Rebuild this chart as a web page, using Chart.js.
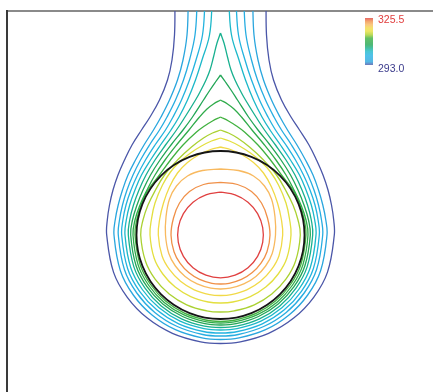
<!DOCTYPE html>
<html>
<head>
<meta charset="utf-8">
<script src="https://cdn.jsdelivr.net/npm/chart.js@4/dist/chart.umd.min.js"></script>
<style>
  html, body { margin: 0; padding: 0; background: #fff; }
  #wrap { width: 433px; height: 392px; position: relative; }
</style>
</head>
<body>
<div id="wrap"><canvas id="plot"></canvas></div>
<script>
// Isotherm temperatures (K), from the coolest outer line to the hottest core line
const levels = [293.0, 295.3, 297.6, 300.0, 302.3, 304.6, 306.9, 309.3, 311.6, 313.9, 316.2, 318.5, 320.9, 323.2, 325.5];
const tempMin = 293.0;
const tempMax = 325.5;
const colorbarLabels = ['325.5', '293.0'];

// Cylinder wall radius, centred on the origin
const cylinderRadius = 84;

// Right half of each isotherm (x, y), from its top down to the symmetry axis below the cylinder.
// Open lines start above the window; closed lines start at their apex on the axis.
const iso293_0 = [[45.5,232],[46,200],[48.5,175],[53,155],[61,135],[70.5,118],[79,105],[88.5,90],[96,75],[102.5,60],[107.5,45],[111,30],[113.2,15],[113.8,0],[107,-37.1],[93.2,-62.3],[73.2,-83.1],[48.1,-98.3],[19.8,-106.8],[0,-108.5]];
const iso295_3 = [[32.2,232],[33.5,200],[37.5,175],[43,155],[51,135],[59.5,118],[67,105],[76.5,90],[85,75],[92.5,60],[98,45],[102.3,30],[105.3,15],[106.5,0],[100.1,-35.7],[87.2,-60],[68.5,-80],[45.1,-94.7],[18.5,-102.9],[0,-104.5]];
const iso297_6 = [[23.3,232],[25.5,200],[31,175],[37,155],[45,135],[53.5,118],[61,105],[71,90],[80,75],[87.5,60],[93.5,45],[98,30],[101,15],[102.2,0],[96.1,-34.5],[83.7,-58],[65.7,-77.4],[43.2,-91.5],[17.8,-99.5],[0,-101]];
const iso300_0 = [[15.5,232],[18,200],[24.5,175],[31,155],[39,135],[47.5,118],[55,105],[65.5,90],[75,75],[83,60],[89.5,45],[94.5,30],[97.6,15],[98.8,0],[92.9,-33.5],[80.9,-56.3],[63.5,-75.1],[41.8,-88.8],[17.2,-96.5],[0,-98]];
const iso302_3 = [[8.3,232],[11,200],[18.5,175],[25,155],[33,135],[41.5,118],[49.5,105],[60,90],[70,75],[79,60],[85.5,45],[90.8,30],[94.2,15],[95.5,0],[89.8,-32.5],[78.2,-54.5],[61.4,-72.8],[40.4,-86.1],[16.6,-93.6],[0,-95]];
const iso304_6 = [[0,202],[3.5,192],[7,178],[10.5,165],[14.5,155],[20.5,143],[25,135],[35.5,118],[44,105],[55,90],[65.5,75],[74.5,60],[81.5,45],[87,30],[90.8,15],[92.2,0],[86.7,-31.6],[75.5,-53.1],[59.3,-70.9],[39,-83.8],[16,-91.1],[0,-92.5]];
const iso306_9 = [[0,160],[5,153],[10.5,145],[17,135],[28,118],[37.5,105],[49.5,90],[60.5,75],[70,60],[77.5,45],[83.5,30],[88,15],[89.8,0],[84.4,-30.8],[73.5,-51.7],[57.7,-68.9],[38,-81.5],[15.6,-88.7],[0,-90]];
const iso309_3 = [[0,135],[7,131],[13.5,126],[21,118],[31.5,105],[44,90],[55.5,75],[65.5,60],[73.5,45],[80.5,30],[85.5,15],[87.5,0],[82.3,-30.1],[71.7,-50.5],[56.3,-67.4],[37,-79.7],[15.2,-86.7],[0,-88]];
const iso311_6 = [[0,118],[8,114],[16,109],[24,103],[37.5,90],[50,75],[61,60],[72.5,45],[79.5,30],[83.8,15],[85.5,0],[80.4,-29.5],[70,-49.5],[55,-66.1],[36.1,-78.2],[14.9,-85],[0,-86.3]];
const iso313_9 = [[0,105],[8,102],[17,97],[29,88],[43,75],[56,60],[65,45],[72.5,30],[77.5,15],[79.8,0],[75,-26.3],[65.4,-44.2],[51.3,-59],[33.8,-69.8],[13.9,-75.8],[0,-77]];
const iso316_2 = [[0,97],[9,94],[19,89],[30,82],[41,73],[50,63],[58,50],[65.5,32],[69,16],[70.5,0],[66.3,-23.3],[57.7,-39],[45.3,-52.1],[29.8,-61.6],[12.3,-67],[0,-68]];
const iso318_5 = [[0,88],[10,85.5],[22,80],[33,72.5],[43,62],[51,48],[57,32],[60.8,16],[62.2,0],[58.5,-20.7],[50.9,-34.7],[40,-46.3],[26.3,-54.8],[10.8,-59.6],[0,-60.5]];
const iso320_9 = [[0,66],[18,64.5],[33,59],[44,49],[51,36],[54.5,18],[55,0],[51.7,-18.5],[45.1,-31],[35.4,-41.4],[23.3,-48.9],[9.6,-53.2],[0,-54]];
const iso323_2 = [[0,52.7],[17,50.5],[31,43.5],[41,32],[47,17],[49.5,0],[46.5,-16.8],[40.5,-28.1],[31.8,-37.5],[20.9,-44.4],[8.6,-48.3],[0,-49]];
const iso325_5 = [[0,42.8],[14.6,40.2],[27.5,32.8],[37.1,21.4],[42.2,7.4],[42.2,-7.4],[37.1,-21.4],[27.5,-32.8],[14.6,-40.2],[0,-42.8]];

const isoHalves = [iso293_0, iso295_3, iso297_6, iso300_0, iso302_3, iso304_6, iso306_9, iso309_3,
                   iso311_6, iso313_9, iso316_2, iso318_5, iso320_9, iso323_2, iso325_5];

// Colour scale from cold (0) to hot (1)
const colorStops = [
  [0.00, [74, 86, 168]],
  [0.07, [42, 166, 222]],
  [0.20, [36, 178, 228]],
  [0.29, [28, 184, 200]],
  [0.36, [24, 176, 140]],
  [0.43, [34, 166, 84]],
  [0.57, [60, 176, 64]],
  [0.64, [168, 208, 48]],
  [0.72, [232, 224, 64]],
  [0.79, [242, 216, 72]],
  [0.86, [248, 184, 96]],
  [0.93, [240, 144, 72]],
  [1.00, [224, 64, 64]]
];

function colorAt(t) {
  t = Math.max(0, Math.min(1, t));
  for (let i = 1; i < colorStops.length; i++) {
    const [t1, c1] = colorStops[i];
    const [t0, c0] = colorStops[i - 1];
    if (t <= t1) {
      const f = (t - t0) / (t1 - t0);
      const c = c0.map((v, k) => Math.round(v + (c1[k] - v) * f));
      return `rgb(${c[0]},${c[1]},${c[2]})`;
    }
  }
  const c = colorStops[colorStops.length - 1][1];
  return `rgb(${c[0]},${c[1]},${c[2]})`;
}

// The field is symmetric about x = 0: mirror the right half to close each line
function fullLine(half) {
  const pts = half.map(([x, y]) => ({ x, y }));
  for (let i = half.length - 2; i >= 0; i--) {
    pts.push({ x: -half[i][0], y: half[i][1] });
  }
  return pts;
}

const isoDatasets = levels.map((level, i) => ({
  label: level.toFixed(1) + ' K',
  data: fullLine(isoHalves[i]),
  showLine: true,
  borderColor: colorAt((level - tempMin) / (tempMax - tempMin)),
  borderWidth: 1.3,
  pointRadius: 0,
  tension: 0.4,
  fill: false
}));

function cylinderPixelRadius(ctx) {
  const xs = ctx.chart.scales.x;
  return Math.abs(xs.getPixelForValue(cylinderRadius) - xs.getPixelForValue(0));
}

const cylinderDataset = {
  label: 'cylinder',
  data: [{ x: 0, y: 0 }],
  showLine: false,
  pointStyle: 'circle',
  pointRadius: cylinderPixelRadius,
  pointHoverRadius: cylinderPixelRadius,
  pointBorderColor: '#151515',
  pointBackgroundColor: 'rgba(0,0,0,0)',
  pointBorderWidth: 1.8
};

// Vertical colour bar with its end values, in the upper right corner
const colorbarPlugin = {
  id: 'colorbar',
  afterDraw(chart) {
    const { ctx, chartArea } = chart;
    const left = chartArea.right - 68, width = 8;
    const top = chartArea.top + 7, bottom = chartArea.top + 54;
    const grad = ctx.createLinearGradient(0, bottom, 0, top);
    colorStops.forEach(([t]) => grad.addColorStop(t, colorAt(t)));
    ctx.save();
    ctx.globalAlpha = 0.8;
    ctx.fillStyle = grad;
    ctx.fillRect(left, top, width, bottom - top);
    ctx.globalAlpha = 1;
    ctx.font = '10.5px "Liberation Sans", Arial, sans-serif';
    ctx.textAlign = 'left';
    ctx.textBaseline = 'alphabetic';
    ctx.fillStyle = '#e03c3c';
    ctx.fillText(colorbarLabels[0], left + 13, top + 4.5);
    ctx.fillStyle = '#3c3c8c';
    ctx.fillText(colorbarLabels[1], left + 13, bottom + 6.5);
    ctx.restore();
  }
};

new Chart(document.getElementById('plot'), {
  type: 'scatter',
  data: { datasets: [cylinderDataset, ...isoDatasets] },
  options: {
    responsive: true,
    maintainAspectRatio: false,
    devicePixelRatio: 1,
    animation: false,
    events: [],
    layout: { padding: { left: 7, top: 11, right: 0, bottom: 0 } },
    plugins: { legend: { display: false }, tooltip: { enabled: false } },
    scales: {
      x: {
        type: 'linear', position: 'top', min: -213.5, max: 212.5,
        ticks: { display: false },
        grid: { display: false, drawTicks: false },
        border: { display: true, color: '#8a8a8a', width: 2 }
      },
      y: {
        type: 'linear', position: 'left', min: -157, max: 224,
        ticks: { display: false },
        grid: { display: false, drawTicks: false },
        border: { display: true, color: '#3a3a3a', width: 2 }
      }
    }
  },
  plugins: [colorbarPlugin]
});
</script>
</body>
</html>
